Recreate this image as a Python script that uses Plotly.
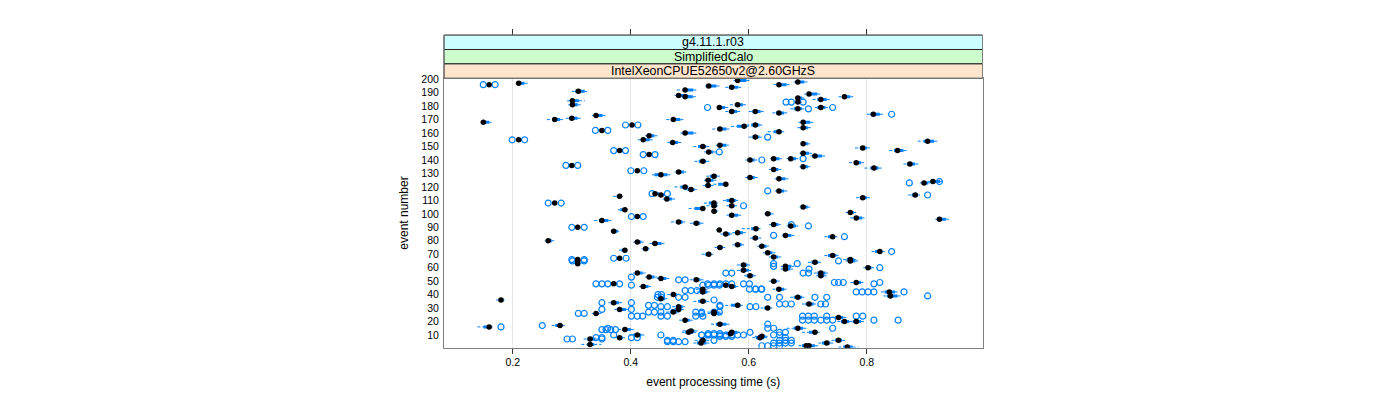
import plotly.graph_objects as go

# ---------------- data ----------------
strip_labels = ["g4.11.1.r03", "SimplifiedCalo", "IntelXeonCPUE52650v2@2.60GHzS"]
x_ticks = [0.2, 0.4, 0.6, 0.8]
y_ticks = list(range(10, 201, 10))

event = [196, 197, 191, 184, 181, 168, 170, 171, 173, 166, 162, 155, 147, 144, 136,
         192, 195, 188, 187, 179, 170, 158, 155, 160, 153, 150, 146, 139,
         194, 199, 196, 198, 189, 186, 183, 185, 187, 178, 179, 181, 176, 176, 175, 174,
         168, 164, 163, 165, 166, 161, 157, 152, 151, 145, 143, 149, 147, 154, 137, 138,
         134, 140, 141, 141, 135, 133,
         132, 129, 131, 128, 125, 121, 120, 118, 115, 114, 111, 113, 108, 103, 98, 95,
         87, 90, 80, 79, 78, 74, 73, 66, 67, 94, 93, 106, 108, 102, 104, 88, 70,
         122, 127, 126, 123, 124, 117, 114, 112, 110, 106, 105, 100, 99, 101, 97, 96,
         92, 91, 89, 85, 86, 84, 82, 83, 76, 77, 75, 71, 72, 68, 69, 66,
         65, 63, 56, 53, 52, 48, 46, 51, 40, 37, 42, 44, 34, 29, 26, 36, 16, 17, 14,
         8, 10, 7, 3, 27, 31, 29, 21, 13, 6, 35, 27,
         65, 64, 60, 62, 58, 61, 59, 56, 54, 54, 49, 50, 44, 42, 39, 38, 33, 30, 32,
         26, 18, 12, 9, 15, 12, 23, 20, 20, 4, 6, 2, 1, 12, 4, 11, 8, 47, 46, 2]

median = [0.160, 0.210, 0.311, 0.301, 0.301, 0.150, 0.271, 0.300, 0.341, 0.402, 0.351, 0.210, 0.381, 0.431, 0.300,
          0.492, 0.532, 0.481, 0.492, 0.550, 0.472, 0.431, 0.421, 0.492, 0.471, 0.522, 0.532, 0.522,
          0.571, 0.581, 0.651, 0.683, 0.702, 0.683, 0.683, 0.722, 0.762, 0.683, 0.722, 0.581, 0.571, 0.611, 0.651, 0.811,
          0.692, 0.692, 0.551, 0.592, 0.611, 0.651, 0.611, 0.692, 0.551, 0.692, 0.712, 0.793, 0.852, 0.903, 0.873, 0.782,
          0.812, 0.602, 0.642, 0.671, 0.692, 0.642,
          0.411, 0.451, 0.481, 0.541, 0.531, 0.531, 0.492, 0.502, 0.441, 0.451, 0.461, 0.381, 0.271, 0.390, 0.411, 0.351,
          0.371, 0.310, 0.260, 0.411, 0.441, 0.425, 0.390, 0.310, 0.381, 0.481, 0.511, 0.541, 0.541, 0.541, 0.522, 0.550, 0.532,
          0.561, 0.602, 0.651, 0.897, 0.912, 0.651, 0.882, 0.793, 0.571, 0.571, 0.692, 0.632, 0.571, 0.772, 0.782, 0.923,
          0.642, 0.671, 0.612, 0.561, 0.581, 0.662, 0.611, 0.742, 0.622, 0.581, 0.551, 0.632, 0.822, 0.642, 0.742, 0.772,
          0.310, 0.310, 0.411, 0.431, 0.451, 0.371, 0.421, 0.511, 0.472, 0.451, 0.522, 0.522, 0.371, 0.381, 0.341, 0.180, 0.160, 0.280, 0.390,
          0.381, 0.411, 0.331, 0.331, 0.472, 0.481, 0.481, 0.492, 0.502, 0.522, 0.522, 0.541,
          0.772, 0.712, 0.802, 0.591, 0.591, 0.662, 0.662, 0.722, 0.722, 0.602, 0.782, 0.642, 0.651, 0.838, 0.840, 0.683, 0.702, 0.632, 0.581,
          0.541, 0.551, 0.571, 0.622, 0.683, 0.712, 0.752, 0.762, 0.782, 0.732, 0.752, 0.702, 0.767, 0.498, 0.519, 0.569, 0.619, 0.561, 0.571, 0.697]

q1 = [0.160, 0.208, 0.306, 0.300, 0.299, 0.150, 0.268, 0.296, 0.338, 0.402, 0.351, 0.210, 0.381, 0.431, 0.300,
      0.488, 0.530, 0.478, 0.490, 0.548, 0.468, 0.428, 0.418, 0.488, 0.466, 0.514, 0.528, 0.515,
      0.566, 0.578, 0.648, 0.680, 0.700, 0.680, 0.681, 0.716, 0.758, 0.676, 0.716, 0.576, 0.566, 0.606, 0.646, 0.806,
      0.690, 0.688, 0.546, 0.580, 0.604, 0.642, 0.606, 0.690, 0.548, 0.690, 0.708, 0.788, 0.846, 0.896, 0.868, 0.778,
      0.806, 0.598, 0.640, 0.668, 0.690, 0.638,
      0.411, 0.440, 0.478, 0.534, 0.528, 0.526, 0.484, 0.496, 0.440, 0.449, 0.458, 0.376, 0.271, 0.382, 0.411, 0.346,
      0.368, 0.310, 0.256, 0.408, 0.436, 0.422, 0.384, 0.310, 0.381, 0.476, 0.506, 0.536, 0.532, 0.538, 0.508, 0.546, 0.526,
      0.548, 0.598, 0.648, 0.894, 0.908, 0.648, 0.876, 0.788, 0.562, 0.566, 0.688, 0.628, 0.566, 0.768, 0.778, 0.920,
      0.638, 0.668, 0.604, 0.556, 0.578, 0.660, 0.606, 0.734, 0.618, 0.576, 0.546, 0.628, 0.814, 0.638, 0.734, 0.766,
      0.306, 0.306, 0.408, 0.428, 0.448, 0.368, 0.418, 0.506, 0.468, 0.448, 0.518, 0.516, 0.366, 0.376, 0.338, 0.176, 0.150, 0.272, 0.386,
      0.378, 0.404, 0.326, 0.326, 0.466, 0.476, 0.474, 0.488, 0.496, 0.516, 0.514, 0.536,
      0.768, 0.706, 0.798, 0.586, 0.586, 0.658, 0.658, 0.716, 0.718, 0.596, 0.778, 0.638, 0.646, 0.830, 0.834, 0.676, 0.696, 0.626, 0.570,
      0.536, 0.544, 0.566, 0.616, 0.676, 0.702, 0.746, 0.756, 0.776, 0.724, 0.746, 0.696, 0.760, 0.492, 0.512, 0.562, 0.612, 0.556, 0.566, 0.690]

q3 = [0.160, 0.220, 0.322, 0.312, 0.310, 0.160, 0.280, 0.310, 0.352, 0.402, 0.351, 0.210, 0.381, 0.431, 0.300,
      0.506, 0.545, 0.496, 0.505, 0.560, 0.484, 0.440, 0.432, 0.506, 0.480, 0.528, 0.540, 0.528,
      0.582, 0.596, 0.664, 0.694, 0.716, 0.690, 0.688, 0.732, 0.772, 0.690, 0.730, 0.590, 0.580, 0.620, 0.660, 0.822,
      0.704, 0.700, 0.562, 0.596, 0.618, 0.656, 0.618, 0.700, 0.562, 0.702, 0.724, 0.800, 0.862, 0.914, 0.882, 0.790,
      0.820, 0.610, 0.652, 0.680, 0.700, 0.650,
      0.411, 0.462, 0.490, 0.546, 0.540, 0.536, 0.496, 0.508, 0.448, 0.456, 0.470, 0.384, 0.271, 0.392, 0.411, 0.362,
      0.378, 0.310, 0.266, 0.418, 0.452, 0.430, 0.392, 0.310, 0.381, 0.488, 0.518, 0.546, 0.544, 0.546, 0.524, 0.552, 0.536,
      0.562, 0.610, 0.662, 0.904, 0.924, 0.660, 0.886, 0.800, 0.578, 0.576, 0.700, 0.638, 0.582, 0.778, 0.792, 0.934,
      0.650, 0.680, 0.616, 0.568, 0.590, 0.672, 0.616, 0.746, 0.630, 0.588, 0.556, 0.640, 0.826, 0.650, 0.748, 0.778,
      0.312, 0.314, 0.420, 0.440, 0.460, 0.376, 0.430, 0.518, 0.478, 0.458, 0.530, 0.526, 0.380, 0.392, 0.346, 0.184, 0.162, 0.284, 0.400,
      0.386, 0.418, 0.340, 0.338, 0.478, 0.488, 0.486, 0.500, 0.508, 0.528, 0.528, 0.548,
      0.780, 0.718, 0.808, 0.598, 0.600, 0.672, 0.670, 0.730, 0.728, 0.608, 0.790, 0.648, 0.660, 0.848, 0.852, 0.690, 0.710, 0.636, 0.586,
      0.550, 0.562, 0.580, 0.628, 0.692, 0.716, 0.760, 0.770, 0.790, 0.738, 0.758, 0.712, 0.776, 0.506, 0.528, 0.576, 0.626, 0.568, 0.578, 0.704]

w_lo = [0.160, 0.205, 0.300, 0.292, 0.294, 0.148, 0.258, 0.290, 0.334, 0.402, 0.351, 0.210, 0.381, 0.431, 0.300,
        0.478, 0.526, 0.474, 0.485, 0.546, 0.460, 0.424, 0.412, 0.484, 0.462, 0.506, 0.524, 0.508,
        0.560, 0.574, 0.642, 0.676, 0.694, 0.678, 0.679, 0.708, 0.752, 0.670, 0.712, 0.568, 0.560, 0.600, 0.640, 0.800,
        0.684, 0.682, 0.538, 0.570, 0.596, 0.632, 0.600, 0.688, 0.544, 0.686, 0.704, 0.780, 0.838, 0.886, 0.862, 0.770,
        0.796, 0.594, 0.636, 0.664, 0.686, 0.634,
        0.411, 0.436, 0.474, 0.528, 0.524, 0.522, 0.474, 0.490, 0.438, 0.447, 0.454, 0.370, 0.271, 0.378, 0.411, 0.338,
        0.366, 0.310, 0.254, 0.404, 0.432, 0.418, 0.380, 0.310, 0.381, 0.468, 0.500, 0.528, 0.524, 0.536, 0.498, 0.544, 0.520,
        0.540, 0.594, 0.644, 0.890, 0.904, 0.644, 0.870, 0.782, 0.556, 0.562, 0.686, 0.626, 0.562, 0.764, 0.772, 0.916,
        0.634, 0.664, 0.588, 0.552, 0.572, 0.656, 0.602, 0.728, 0.614, 0.572, 0.542, 0.624, 0.808, 0.634, 0.728, 0.760,
        0.304, 0.304, 0.404, 0.424, 0.444, 0.366, 0.414, 0.500, 0.462, 0.444, 0.512, 0.510, 0.362, 0.372, 0.334, 0.172, 0.140, 0.266, 0.378,
        0.374, 0.398, 0.320, 0.316, 0.460, 0.470, 0.468, 0.482, 0.488, 0.508, 0.506, 0.530,
        0.764, 0.700, 0.794, 0.580, 0.580, 0.654, 0.654, 0.710, 0.714, 0.592, 0.772, 0.634, 0.640, 0.824, 0.828, 0.670, 0.690, 0.620, 0.560,
        0.530, 0.536, 0.560, 0.610, 0.664, 0.690, 0.740, 0.750, 0.770, 0.718, 0.740, 0.690, 0.752, 0.486, 0.506, 0.556, 0.606, 0.550, 0.560, 0.684]

w_hi = [0.160, 0.226, 0.326, 0.322, 0.318, 0.164, 0.286, 0.315, 0.358, 0.402, 0.351, 0.210, 0.381, 0.431, 0.300,
        0.512, 0.552, 0.502, 0.511, 0.566, 0.490, 0.446, 0.438, 0.512, 0.486, 0.534, 0.546, 0.534,
        0.588, 0.602, 0.670, 0.700, 0.722, 0.694, 0.690, 0.740, 0.778, 0.694, 0.734, 0.596, 0.586, 0.626, 0.666, 0.830,
        0.710, 0.706, 0.570, 0.600, 0.624, 0.660, 0.622, 0.704, 0.566, 0.708, 0.730, 0.806, 0.868, 0.920, 0.888, 0.796,
        0.826, 0.614, 0.656, 0.684, 0.704, 0.656,
        0.411, 0.470, 0.494, 0.552, 0.546, 0.540, 0.498, 0.512, 0.452, 0.458, 0.476, 0.386, 0.271, 0.394, 0.411, 0.368,
        0.380, 0.310, 0.270, 0.422, 0.458, 0.432, 0.394, 0.310, 0.381, 0.492, 0.524, 0.548, 0.548, 0.548, 0.526, 0.554, 0.540,
        0.564, 0.616, 0.668, 0.908, 0.932, 0.666, 0.890, 0.806, 0.582, 0.580, 0.704, 0.642, 0.588, 0.782, 0.796, 0.940,
        0.654, 0.684, 0.620, 0.572, 0.596, 0.678, 0.622, 0.750, 0.634, 0.592, 0.560, 0.646, 0.830, 0.656, 0.752, 0.782,
        0.314, 0.316, 0.426, 0.446, 0.466, 0.378, 0.434, 0.524, 0.482, 0.462, 0.534, 0.530, 0.386, 0.396, 0.350, 0.186, 0.166, 0.288, 0.406,
        0.390, 0.424, 0.346, 0.350, 0.482, 0.492, 0.490, 0.506, 0.514, 0.534, 0.534, 0.552,
        0.786, 0.722, 0.812, 0.602, 0.604, 0.678, 0.676, 0.734, 0.732, 0.612, 0.794, 0.652, 0.664, 0.852, 0.858, 0.694, 0.714, 0.640, 0.590,
        0.556, 0.570, 0.586, 0.632, 0.700, 0.720, 0.766, 0.776, 0.796, 0.744, 0.764, 0.720, 0.786, 0.512, 0.534, 0.582, 0.632, 0.572, 0.582, 0.710]

outlier_event = [196, 196, 166, 166, 162, 162, 155, 155, 147, 147, 144, 144, 136, 136,
                 179, 146, 183, 183, 183, 178, 179, 174, 157, 140, 141,
                 132, 132, 115, 115, 108, 108, 98, 98, 90, 90, 66, 66, 67, 67,
                 123, 124, 117, 114, 106, 92, 91, 84, 83, 72,
                 65, 65, 53, 48, 48, 48, 48, 47, 51, 51, 40, 40, 34, 34, 29, 29, 26, 26,
                 16, 17, 14, 14, 14, 14, 7, 7, 7,
                 65, 60, 61, 59, 56, 56, 49, 49, 49, 49, 44, 44, 44, 42, 42, 42, 42, 42, 39,
                 38, 38, 33, 33, 32,
                 47, 47, 47, 47, 43, 43, 43, 38, 38, 38, 38, 36, 32, 32, 31, 31,
                 27, 27, 27, 27, 27, 27, 27, 24, 24, 24, 24, 24, 24, 24,
                 15, 10, 10, 10, 10, 8, 8, 8, 8, 5, 5, 5, 5,
                 63, 63, 56, 56, 48, 48, 48, 48, 48, 48, 48, 48, 44, 44, 38, 38,
                 33, 33, 33, 31, 31, 31, 26, 24, 24, 24, 24, 24, 24,
                 21, 21, 21, 21, 21, 21, 21, 21, 18, 15, 15, 15, 12, 12, 12,
                 10, 10, 10, 10, 10, 10, 10, 10, 10, 10, 8, 6, 6, 6, 6,
                 4, 4, 4, 4, 2, 2, 2, 2, 9, 9, 9, 11, 11, 11, 6, 6]

outlier_value = [0.150, 0.170, 0.391, 0.412, 0.340, 0.361, 0.199, 0.220, 0.371, 0.391, 0.421, 0.441, 0.290, 0.310,
                 0.530, 0.550, 0.663, 0.672, 0.692, 0.701, 0.742, 0.842, 0.632, 0.622, 0.692,
                 0.400, 0.422, 0.436, 0.462, 0.260, 0.282, 0.401, 0.421, 0.300, 0.321, 0.300, 0.321, 0.371, 0.392,
                 0.872, 0.923, 0.632, 0.903, 0.591, 0.672, 0.701, 0.642, 0.762, 0.842,
                 0.301, 0.321, 0.401, 0.341, 0.351, 0.361, 0.381, 0.401, 0.481, 0.492, 0.446, 0.452, 0.351, 0.401, 0.351, 0.401, 0.311, 0.321,
                 0.180, 0.250, 0.351, 0.358, 0.366, 0.374, 0.292, 0.301, 0.351,
                 0.752, 0.822, 0.642, 0.702, 0.692, 0.701, 0.745, 0.752, 0.760, 0.822, 0.601, 0.611, 0.621, 0.782, 0.792, 0.802, 0.812, 0.863, 0.903,
                 0.712, 0.732, 0.722, 0.730, 0.551,
                 0.522, 0.532, 0.541, 0.550, 0.492, 0.502, 0.512, 0.445, 0.452, 0.481, 0.492, 0.541, 0.430, 0.440, 0.451, 0.462,
                 0.430, 0.440, 0.451, 0.510, 0.520, 0.541, 0.550, 0.401, 0.411, 0.420, 0.451, 0.462, 0.510, 0.522,
                 0.361, 0.371, 0.451, 0.520, 0.532, 0.341, 0.351, 0.401, 0.411, 0.462, 0.472, 0.481, 0.492,
                 0.642, 0.682, 0.561, 0.571, 0.530, 0.541, 0.551, 0.561, 0.571, 0.591, 0.601, 0.812, 0.612, 0.622, 0.632, 0.652,
                 0.652, 0.662, 0.672, 0.602, 0.612, 0.551, 0.520, 0.691, 0.701, 0.711, 0.732, 0.782, 0.793,
                 0.691, 0.701, 0.711, 0.722, 0.732, 0.742, 0.812, 0.853, 0.632, 0.632, 0.642, 0.742, 0.652, 0.662, 0.602,
                 0.520, 0.530, 0.541, 0.551, 0.561, 0.571, 0.581, 0.591, 0.642, 0.652, 0.662, 0.541, 0.652, 0.662, 0.672,
                 0.642, 0.652, 0.662, 0.672, 0.622, 0.632, 0.642, 0.652, 0.551, 0.561, 0.571, 0.531, 0.541, 0.551, 0.462, 0.472]

# ---------------- build segments for boxes and whiskers ----------------
BLUE = "#0080ff"
wx, wy, bx, by = [], [], [], []
for e, lo, a, b, hi in zip(event, w_lo, q1, q3, w_hi):
    wx += [lo, a, None, b, hi, None]
    wy += [e, e, None, e, e, None]
    bx += [a, b, None]
    by += [e, e, None]

fig = go.Figure()
fig.add_trace(go.Scatter(x=wx, y=wy, mode="lines", line=dict(color=BLUE, width=1, dash="3px,2px"),
                         hoverinfo="skip", showlegend=False))
fig.add_trace(go.Scatter(x=bx, y=by, mode="lines", line=dict(color=BLUE, width=3),
                         hoverinfo="skip", showlegend=False))
fig.add_trace(go.Scatter(x=outlier_value, y=outlier_event, mode="markers",
                         marker=dict(symbol="circle-open", size=6, color=BLUE, line=dict(width=1.2)),
                         showlegend=False))
fig.add_trace(go.Scatter(x=median, y=event, mode="markers",
                         marker=dict(symbol="circle", size=5.5, color="black"),
                         showlegend=False))
# invisible trace so the top tick axis is drawn
fig.add_trace(go.Scatter(x=[None], y=[None], xaxis="x2", yaxis="y", showlegend=False, hoverinfo="skip"))

# page body has an 8px margin, so positions are shifted by 8px
X0, X1 = 436 / 1400, 974.5 / 1400
PANEL_B, PANEL_T = (400 - 339.7) / 400, (400 - 70.3) / 400
STRIP_H = 14.4 / 400
XR = [0.0834, 0.996]
FONT = "Liberation Sans, Arial, Helvetica, sans-serif"
strip_cols = ["#ccffff", "#ccffcc", "#ffe5cc"]
GREY = "#808080"

shapes, annotations = [], []
for i, (lab, col) in enumerate(zip(strip_labels, strip_cols)):
    y_top = PANEL_T + STRIP_H * (3 - i)
    y_bot = y_top - STRIP_H
    shapes.append(dict(type="rect", xref="paper", yref="paper", x0=X0, x1=X1, y0=y_bot, y1=y_top,
                       fillcolor=col, line=dict(color="#222222", width=1), layer="above"))
    annotations.append(dict(text=lab, xref="paper", yref="paper", x=(X0 + X1) / 2, y=(y_top + y_bot) / 2,
                            showarrow=False, xanchor="center", yanchor="middle",
                            font=dict(family=FONT, size=12.4, color="black")))
# grey outline around the whole strip stack
shapes.append(dict(type="rect", xref="paper", yref="paper", x0=X0, x1=X1, y0=PANEL_T,
                   y1=PANEL_T + 3 * STRIP_H, line=dict(color=GREY, width=1), layer="above"))

fig.update_layout(
    width=1400, height=400, autosize=False,
    margin=dict(l=0, r=0, t=0, b=0),
    paper_bgcolor="white", plot_bgcolor="white",
    font=dict(family=FONT, size=10.5, color="black"),
    shapes=shapes, annotations=annotations,
    xaxis=dict(domain=[X0, X1], range=XR, anchor="y", tickvals=x_ticks, automargin=False,
               ticktext=[str(v) for v in x_ticks], ticks="outside", ticklen=5, tickcolor="#333",
               showline=True, mirror=True, linecolor=GREY, linewidth=1,
               showgrid=True, gridcolor="#e6e6e6", gridwidth=1, zeroline=False,
               title=dict(text="event processing time (s)", standoff=10, font=dict(size=12))),
    xaxis2=dict(domain=[X0, X1], range=XR, overlaying="x", anchor="free", automargin=False,
                position=PANEL_T + 3 * STRIP_H, side="top", tickvals=x_ticks,
                showticklabels=False, ticks="outside", ticklen=6, tickcolor="#333",
                showline=False, showgrid=False, zeroline=False),
    yaxis=dict(domain=[PANEL_B, PANEL_T], range=[0.55, 200.7], tickvals=y_ticks, automargin=False,
               ticktext=[str(v) for v in y_ticks], ticks="outside", ticklen=2, tickcolor="rgba(0,0,0,0)",
               showline=True, mirror=True, linecolor=GREY, linewidth=1,
               showgrid=False, zeroline=False,
               title=dict(text="event number", standoff=10, font=dict(size=12))),
)

fig.write_html("out.html")
